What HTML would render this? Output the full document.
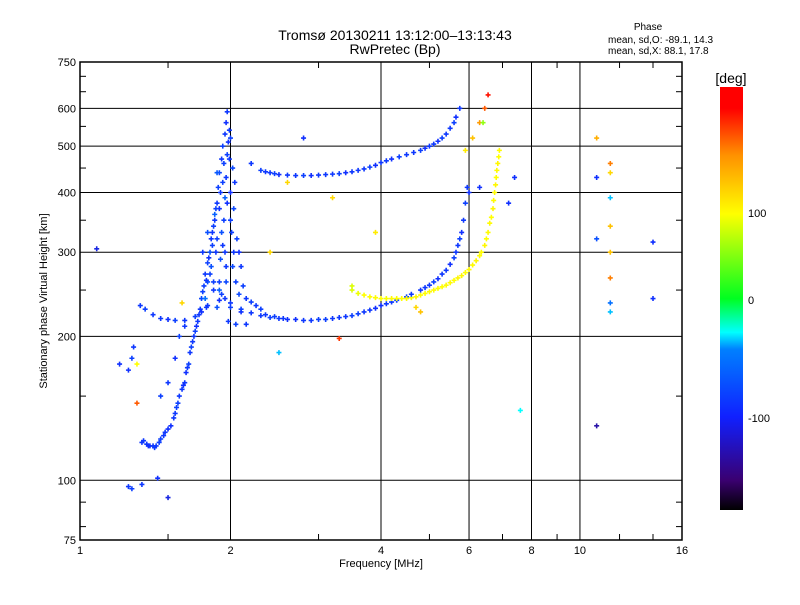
<!DOCTYPE html>
<html><head><meta charset="utf-8"><style>
body{margin:0;background:#fff;}
svg text{font-family:"Liberation Sans",sans-serif;fill:#000;}
</style></head><body>
<svg id="c" width="800" height="600" viewBox="0 0 800 600">
<defs><linearGradient id="cb" x1="0" y1="1" x2="0" y2="0">
<stop offset="0" stop-color="#000"/><stop offset="0.07" stop-color="#3a0070"/><stop offset="0.22" stop-color="#1020ff"/><stop offset="0.38" stop-color="#0080ff"/><stop offset="0.42" stop-color="#00ffff"/><stop offset="0.5" stop-color="#00ff20"/><stop offset="0.7" stop-color="#ffff00"/><stop offset="0.84" stop-color="#ff9000"/><stop offset="0.95" stop-color="#ff0000"/><stop offset="1" stop-color="#ff0000"/>
</linearGradient></defs>
<g id="grid"></g><g id="pts"></g>
<rect x="80" y="62" width="602" height="478" fill="none" stroke="#000" stroke-width="1.5"/>
<text x="395" y="40" font-size="14" text-anchor="middle">Tromsø 20130211 13:12:00–13:13:43</text>
<text x="395" y="54" font-size="14" text-anchor="middle">RwPretec (Bp)</text>
<text x="648" y="30" font-size="10" text-anchor="middle">Phase</text>
<text x="608" y="43" font-size="10">mean, sd,O: -89.1, 14.3</text>
<text x="608" y="54" font-size="10">mean, sd,X:  88.1, 17.8</text>
<text x="381" y="567" font-size="11" text-anchor="middle">Frequency [MHz]</text>
<text x="47" y="301" font-size="11" text-anchor="middle" transform="rotate(-90 47 301)">Stationary phase Virtual Height [km]</text>
<rect x="720" y="87" width="23" height="423" fill="url(#cb)"/>
<text x="731" y="83" font-size="14" text-anchor="middle">[deg]</text>
<text x="748" y="217" font-size="11">100</text>
<text x="748" y="304" font-size="11">0</text>
<text x="748" y="422" font-size="11">-100</text>
</svg>
<script>
const xTicks=[1,2,4,6,8,10,16];
const yTicks=[75,100,200,300,400,500,600,750];
const gridX=[2,4,6,8,10];
const gridY=[100,200,300,400,500,600];
const freqMHz=[1.25,1.27,1.33,1.43,1.50,1.33,1.36,1.38,1.40,1.42,1.45,1.48,1.52,1.55,1.57,1.60,1.62,1.63,1.65,1.66,1.68,1.70,1.72,1.74,1.75,1.77,1.78,1.80,1.82,1.83,1.85,1.86,1.88,1.89,1.90,1.92,1.93,1.95,1.96,1.97,
1.25,1.27,1.28,1.20,
1.80,1.85,1.90,1.95,2.0,2.0,2.02,2.03,2.05,1.88,1.95,2.0,2.1,1.98,2.05,2.15,1.78,1.82,1.87,1.92,1.97,1.93,1.99,2.0,1.96,2.02,
1.32,1.35,1.40,1.45,1.50,1.55,1.62,1.70,1.80,1.9,2.0,2.1,2.2,2.3,2.4,2.5,2.6,2.8,3.0,3.2,3.4,3.6,3.8,4.0,4.2,4.5,4.8,5.0,5.2,5.4,5.6,5.7,5.8,5.85,5.9,5.95,
2.2,2.3,2.4,2.5,2.6,2.8,3.0,3.2,3.4,3.6,3.8,4.0,4.2,4.5,4.8,5.0,5.2,5.4,5.6,5.75,
3.5,3.6,3.8,4.0,4.2,4.4,4.6,4.8,5.0,5.2,5.4,5.6,5.8,6.0,6.2,6.35,6.5,6.6,6.7,6.75,6.8,6.85,6.9,
5.9,6.1,6.3,6.45,6.55,
1.08,3.5,3.9,4.8,7.2,7.4,7.6,10.8,11.5,11.5,10.8,11.5,10.8,11.5,11.5,11.5,11.5,11.5,14,14,10.8,1.3,1.3,2.5,3.3,2.4,2.6,2.8,3.2,4.7,1.6,6.3,6.4,6.0,
1.90,1.91,1.93,1.94,1.95,1.96,1.97,1.98,1.99,1.96,1.92,1.85,1.83,1.88,1.86,1.90,1.94,1.88,1.91,2.01,2.03,2.04,2.06,2.08,2.1,2.12,2.08,2.15,2.2,2.25,2.3,1.80,1.76,1.84,1.79,1.75,
2.35,2.45,2.55,2.7,2.9,3.1,3.3,3.5,3.7,3.9,4.1,4.3,4.6,4.9,5.1,5.3,5.5,5.65,5.75,
2.35,2.45,2.7,2.9,3.1,3.3,3.5,3.7,3.9,4.1,4.35,4.65,4.9,5.1,5.3,5.5,5.65,
3.7,3.9,4.1,4.3,4.5,4.7,4.9,5.1,5.3,5.5,5.7,5.9,6.1,6.3,6.45,6.55,6.65,6.72,6.78,6.82,6.88,
1.34,1.37,1.41,1.44,1.47,1.50,1.54,1.56,1.58,1.61,1.64,1.67,1.69,1.71,1.73,1.76,1.79,1.81,1.84,1.87,1.58,1.62,1.55,1.5,1.45];
const heightKm=[97,96,98,101,92,120,119,118,118,118,122,126,130,138,145,155,160,168,175,185,195,205,215,228,240,255,270,285,300,320,340,360,380,410,440,470,500,530,560,590,
170,180,190,175,
330,260,250,300,350,400,450,300,260,230,240,230,225,215,212,212,240,270,300,330,380,420,470,520,280,280,
232,228,222,218,217,216,216,220,232,238,235,228,224,221,219,218,217,216,217,218,220,223,227,232,236,242,250,256,264,275,292,310,330,350,380,410,
460,445,440,436,435,434,435,437,440,445,452,462,470,480,490,500,512,530,560,600,
250,246,242,240,240,240,241,244,248,252,256,262,268,276,288,300,320,345,370,400,430,460,490,
490,520,560,600,640,
305,255,330,225,380,430,140,520,460,440,430,390,320,340,300,265,235,225,315,240,130,145,175,185,198,300,420,520,390,230,235,410,560,400,
260,290,310,350,390,430,480,510,540,260,245,250,280,320,350,370,460,440,400,330,370,420,320,300,280,255,245,240,236,232,228,260,300,310,230,225,
222,220,218,217,216,217,219,221,225,229,234,238,245,253,260,270,283,300,320,
442,438,434,434,436,438,442,448,456,466,475,485,495,505,520,545,575,
244,241,240,240,240,242,246,250,254,259,265,272,282,295,310,330,355,385,415,445,475,
121,118,117,120,124,128,135,142,150,158,172,190,200,210,222,248,262,292,330,370,200,210,180,160,150];
const phaseDeg=[-95,-90,-95,-100,-110,-95,-95,-100,-95,-95,-90,-95,-100,-95,-90,-95,-95,-100,-90,-95,-95,-90,-95,-95,-85,-90,-95,-90,-80,-95,-90,-70,-95,-90,-85,-95,-90,-95,-100,-95,
-100,-90,-95,-100,
-80,-90,-70,-95,-90,-100,-85,-95,-90,-80,-95,-90,-100,-95,-90,-95,-60,-90,-95,-80,-100,-90,-95,-90,-95,-85,
-95,-90,-95,-95,-100,-90,-95,-90,-95,-100,-95,-90,-95,-95,-90,-95,-100,-95,-90,-95,-95,-90,-95,-100,-95,-90,-95,-95,-100,-95,-90,-95,-100,-95,-90,-95,
-95,-90,-95,-100,-95,-90,-95,-95,-100,-95,-90,-95,-100,-95,-90,-95,-100,-95,-90,-95,
60,65,70,70,72,70,68,70,72,70,72,70,74,72,75,72,70,72,75,72,70,74,72,
80,100,120,140,160,
-110,60,80,100,-100,-100,-30,110,130,90,-100,-40,-80,100,100,130,-60,-40,-100,-100,-130,140,70,-40,150,90,90,-100,90,90,90,-100,40,-100,
-90,-80,-95,-90,-70,-95,-90,-100,-95,-85,-90,-95,-80,-90,-95,-100,-90,-75,-95,-90,-85,-95,-90,-100,-95,-90,-85,-95,-90,-95,-90,-80,-95,-90,-95,-100,
-95,-90,-95,-100,-95,-90,-95,-90,-95,-100,-95,-90,-95,-95,-90,-95,-100,-95,-90,
-95,-90,-95,-100,-95,-90,-95,-95,-100,-95,-90,-95,-100,-95,-90,-95,-100,
70,72,68,70,72,74,70,72,70,72,74,70,72,70,74,72,70,72,74,72,70,
-95,-100,-95,-90,-95,-100,-95,-90,-95,-100,-95,-90,-95,-100,-95,-90,-95,-100,-95,-90,-90,-95,-100,-95,-90];
const NS='http://www.w3.org/2000/svg';
const X0=80,XW=602,Y0=540,YH=478;
function xs(f){return X0+Math.log2(f)/4*XW;}
function ys(h){return Y0-Math.log10(h/75)*YH;}
const stops=[[-180,[0,0,0]],[-150,[58,0,112]],[-100,[16,48,255]],[-50,[0,128,255]],[-30,[0,255,255]],[0,[0,255,32]],[70,[255,255,0]],[125,[255,144,0]],[165,[255,0,0]],[180,[255,0,0]]];
function col(v){for(let i=1;i<stops.length;i++){if(v<=stops[i][0]){const a=stops[i-1],b=stops[i];const t=(v-a[0])/(b[0]-a[0]);const c=a[1].map((q,k)=>Math.round(q+(b[1][k]-q)*t));return 'rgb('+c.join(',')+')';}}return 'rgb(255,0,0)';}
function mk(tag,at,par){const e=document.createElementNS(NS,tag);for(const k in at)e.setAttribute(k,at[k]);par.appendChild(e);return e;}
const g=document.getElementById('grid');
gridX.forEach(f=>{const l=mk('line',{x1:xs(f),x2:xs(f),y1:62,y2:540,stroke:'#000','stroke-width':1},g);

});
gridY.forEach(h=>{const l=mk('line',{x1:80,x2:682,y1:ys(h),y2:ys(h),stroke:'#000','stroke-width':1},g);

});
[80,90,150,250,350,450,550,650,700].forEach(h=>{mk('line',{x1:80,x2:86,y1:ys(h),y2:ys(h),stroke:'#000'},g);mk('line',{x1:676,x2:682,y1:ys(h),y2:ys(h),stroke:'#000'},g);});
[1.5,3,5,7,9,12,14].forEach(f=>{mk('line',{x1:xs(f),x2:xs(f),y1:540,y2:534,stroke:'#000'},g);mk('line',{x1:xs(f),x2:xs(f),y1:62,y2:68,stroke:'#000'},g);});
xTicks.forEach(f=>{const t=mk('text',{x:xs(f),y:554,'font-size':11,'text-anchor':'middle'},g);t.textContent=f;

});
yTicks.forEach(h=>{const t=mk('text',{x:76,y:ys(h)+4,'font-size':11,'text-anchor':'end'},g);t.textContent=h;

});
const p=document.getElementById('pts');
for(let i=0;i<freqMHz.length;i++){const x=xs(freqMHz[i]),y=ys(heightKm[i]),c=col(phaseDeg[i]);
const e=mk('path',{d:`M${x-2.5} ${y}H${x+2.5}M${x} ${y-2.5}V${y+2.5}`,stroke:c,'stroke-width':1.6,fill:'none'},p);

}
</script>
</body></html>
